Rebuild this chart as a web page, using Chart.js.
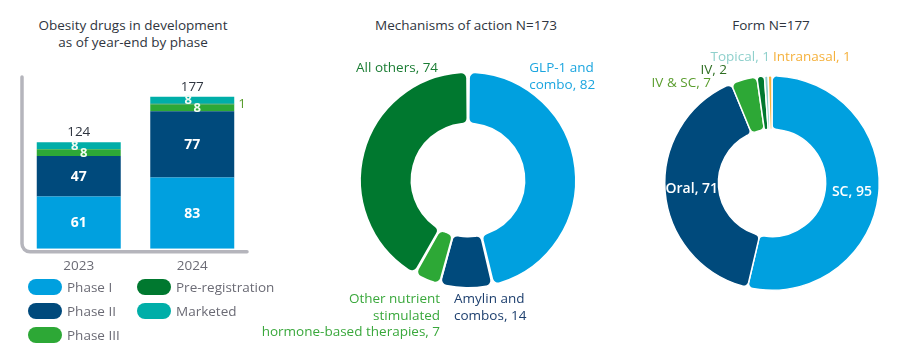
<!DOCTYPE html>
<html>
<head>
<meta charset="utf-8">
<script src="https://cdn.jsdelivr.net/npm/chart.js@4.4.1/dist/chart.umd.min.js"></script>
<style>
  body { margin: 0; background: #fff; font-family: 'Open Sans', sans-serif; }
  #wrap { position: relative; width: 906px; height: 362px; overflow: hidden; }
  canvas { position: absolute; top: 0; }
  .title { position: absolute; font-size: 13.5px; color: #2f3540; text-align: center; line-height: 17px; white-space: nowrap; }
  .lg { position: absolute; font-size: 13.5px; color: #6b6b75; height: 16px; line-height: 16px; white-space: nowrap; }
  .lg span { position: absolute; left: 0; top: 0; width: 34px; height: 16px; border-radius: 8px; }
  .lg b { position: absolute; left: 39px; top: 0; font-weight: normal; }
</style>
</head>
<body>
<div id="wrap">
  <div class="title" style="left:19px; top:17px; width:228px;">Obesity drugs in development<br>as of year-end by phase</div>
  <div class="title" style="left:366px; top:17px; width:200px;">Mechanisms of action N=173</div>
  <div class="title" style="left:711px; top:17px; width:120px;">Form N=177</div>
  <canvas id="phaseChart" width="290" height="290" style="left:0px"></canvas>
  <canvas id="moaChart" width="380" height="362" style="left:240px"></canvas>
  <canvas id="formChart" width="286" height="362" style="left:620px"></canvas>
  <div id="legend"></div>
</div>
<script>
// data
const years = ['2023', '2024'];
const phaseNames = ['Phase I', 'Phase II', 'Phase III', 'Pre-registration', 'Marketed'];
const phase1 = [61, 83];
const phase2 = [47, 77];
const phase3 = [8, 8];
const preReg = [0, 1];
const marketed = [8, 8];

const moaLabels = [['GLP-1 and', 'combo'], ['Amylin and', 'combos'], ['Other nutrient', 'stimulated', 'hormone-based therapies'], ['All others']];
const moaValues = [82, 14, 7, 74];

const formLabels = [['SC'], ['Oral'], ['IV & SC'], ['IV'], ['Topical'], ['Intranasal']];
const formValues = [95, 71, 7, 2, 1, 1];

// colours
const phaseColors = ['#00a0df', '#004a7c', '#2da836', '#00782f', '#00aea8'];
const moaColors = ['#00a0df', '#004a7c', '#2da836', '#00782f'];
const formColors = ['#00a0df', '#004a7c', '#2da836', '#00782f', '#8ccfcb', '#f6b23a'];

const FONT = "'Open Sans', sans-serif";

// legend (two columns, pill swatches)
var legend = document.getElementById('legend');
phaseNames.forEach(function (name, i) {
    var col = Math.floor(i / 3), row = i % 3;
    var d = document.createElement('div');
    d.className = 'lg';
    d.style.left = (28 + col * 109) + 'px';
    d.style.top = (279 + row * 24) + 'px';
    d.innerHTML = '<span style="background:' + phaseColors[i] + '"></span><b>' + name + '</b>';
    legend.appendChild(d);
});

// rounded L-shaped axis line
var axisLine = {
    id: 'axisLine',
    beforeDatasetsDraw: function (chart) {
        var a = chart.chartArea, ctx = chart.ctx, r = 8, yb = a.bottom + 3;
        ctx.save();
        ctx.strokeStyle = '#b5b5bc';
        ctx.lineWidth = 3.5;
        ctx.lineCap = 'round';
        ctx.beginPath();
        ctx.moveTo(a.left, a.top);
        ctx.lineTo(a.left, yb - r);
        ctx.arcTo(a.left, yb, a.left + r, yb, r);
        ctx.lineTo(a.right - 2, yb);
        ctx.stroke();
        ctx.restore();
    }
};

// labels on the stacked bars
var barLabels = {
    id: 'barLabels',
    afterDatasetsDraw: function (chart) {
        var ctx = chart.ctx;
        ctx.save();
        ctx.textBaseline = 'middle';
        chart.data.datasets.forEach(function (ds, i) {
            var meta = chart.getDatasetMeta(i);
            meta.data.forEach(function (bar, j) {
                var v = ds.data[j];
                if (!v) return;
                var mid = (bar.y + bar.base) / 2;
                if (i === 3) {
                    // pre-registration: outside on the right
                    ctx.font = '13.5px ' + FONT;
                    ctx.fillStyle = '#5a9d2e';
                    ctx.textAlign = 'left';
                    ctx.fillText(v, bar.x + bar.width / 2 + 4, mid);
                    return;
                }
                var dx = 0;
                if (i === 2) dx = 5;
                if (i === 4) dx = -4;
                ctx.font = (i < 2 ? 'bold 14px ' : 'bold 13px ') + FONT;
                ctx.fillStyle = i < 2 ? '#ffffff' : '#f2fbf2';
                ctx.textAlign = 'center';
                ctx.fillText(v, bar.x + dx, mid + 0.5);
            });
        });
        // totals above
        ctx.font = '13.5px ' + FONT;
        ctx.fillStyle = '#2f3540';
        ctx.textAlign = 'center';
        years.forEach(function (y, j) {
            var total = 0, top = Infinity, x = 0;
            chart.data.datasets.forEach(function (ds, i) {
                total += ds.data[j];
                var el = chart.getDatasetMeta(i).data[j];
                top = Math.min(top, el.y);
                x = el.x;
            });
            ctx.fillText(total, x, top - 10);
        });
        ctx.restore();
    }
};

new Chart('phaseChart', {
    type: 'bar',
    data: {
        labels: years,
        datasets: [
            { label: phaseNames[0], data: phase1, backgroundColor: phaseColors[0] },
            { label: phaseNames[1], data: phase2, backgroundColor: phaseColors[1] },
            { label: phaseNames[2], data: phase3, backgroundColor: phaseColors[2] },
            { label: phaseNames[3], data: preReg, backgroundColor: phaseColors[3] },
            { label: phaseNames[4], data: marketed, backgroundColor: phaseColors[4] }
        ]
    },
    options: {
        responsive: false,
        animation: false,
        barPercentage: 0.74,
        categoryPercentage: 1,
        layout: { padding: { top: 77, left: 22, right: 41, bottom: 7 } },
        plugins: { legend: { display: false }, tooltip: { enabled: false } },
        scales: {
            x: {
                stacked: true,
                grid: { display: false, drawTicks: false },
                border: { display: false },
                ticks: { color: '#6b6b75', font: { family: FONT, size: 13.5 }, padding: 9 }
            },
            y: { stacked: true, display: false, min: 0, max: 200 }
        }
    },
    plugins: [axisLine, barLabels]
});

// doughnut labels: inside at the arc centroid, or outside relative to the ring
function makeArcLabels(items) {
    return {
        id: 'arcLabels',
        afterDatasetsDraw: function (chart) {
            var ctx = chart.ctx;
            var meta = chart.getDatasetMeta(0);
            var ds = chart.data.datasets[0];
            ctx.save();
            ctx.textBaseline = 'middle';
            meta.data.forEach(function (arc, i) {
                var it = items[i];
                var lines = chart.data.labels[i].slice();
                lines[lines.length - 1] += ', ' + ds.data[i];
                var x, y;
                if (it.inside) {
                    var p = arc.tooltipPosition();
                    x = p.x; y = p.y;
                } else {
                    x = arc.x + it.dx * arc.outerRadius;
                    y = arc.y + it.dy * arc.outerRadius;
                }
                ctx.font = it.font || ('13.5px ' + FONT);
                ctx.fillStyle = it.color;
                ctx.textAlign = it.align || 'center';
                lines.forEach(function (t, k) {
                    ctx.fillText(t, x, y + k * 16.5);
                });
            });
            ctx.restore();
        }
    };
}

new Chart('moaChart', {
    type: 'doughnut',
    data: {
        labels: moaLabels,
        datasets: [{
            data: moaValues,
            backgroundColor: moaColors,
            borderColor: '#ffffff',
            borderWidth: 2,
            borderRadius: 6,
            spacing: 1
        }]
    },
    options: {
        responsive: false,
        animation: false,
        cutout: '52%',
        layout: { padding: { top: 71, bottom: 73, left: 98, right: 22 } },
        plugins: { legend: { display: false }, tooltip: { enabled: false } }
    },
    plugins: [makeArcLabels([
        { dx: 0.57, dy: -1.04, align: 'left', color: '#1ba5df' },
        { dx: -0.13, dy: 1.11, align: 'left', color: '#1d3f6e' },
        { dx: -0.26, dy: 1.11, align: 'right', color: '#3aa83c' },
        { dx: -0.66, dy: -1.04, align: 'center', color: '#1b7d34' }
    ])]
});

new Chart('formChart', {
    type: 'doughnut',
    data: {
        labels: formLabels,
        datasets: [{
            data: formValues,
            backgroundColor: formColors,
            borderColor: '#ffffff',
            borderWidth: 1.5,
            borderRadius: 5
        }]
    },
    options: {
        responsive: false,
        animation: false,
        cutout: '50%',
        layout: { padding: { top: 75, bottom: 71, left: 22, right: 4 } },
        plugins: { legend: { display: false }, tooltip: { enabled: false } }
    },
    plugins: [makeArcLabels([
        { inside: true, color: '#ffffff', font: '600 14px ' + FONT },
        { inside: true, color: '#ffffff', font: '600 14px ' + FONT },
        { dx: -0.57, dy: -0.93, align: 'right', color: '#5a9d2e' },
        { dx: -0.42, dy: -1.05, align: 'right', color: '#2f6e22' },
        { dx: -0.02, dy: -1.17, align: 'right', color: '#8fd0cc' },
        { dx: 0.01, dy: -1.17, align: 'left', color: '#f5b13c' }
    ])]
});
</script>
</body>
</html>
